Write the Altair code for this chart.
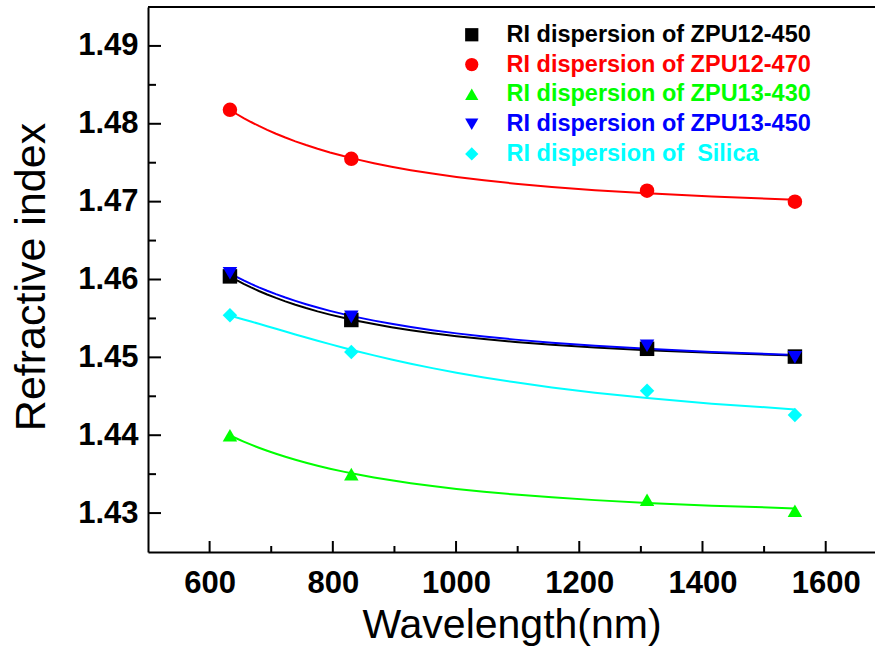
import altair as alt
import pandas as pd

# ---- data ----
wavelengths = [633, 830, 1310, 1550]
series_names = [
    "RI dispersion of ZPU12-450",
    "RI dispersion of ZPU12-470",
    "RI dispersion of ZPU13-430",
    "RI dispersion of ZPU13-450",
    "RI dispersion of \u00a0Silica",
]
zpu12_450 = [1.4604, 1.4548, 1.4511, 1.4501]
zpu12_470 = [1.4818, 1.4755, 1.4714, 1.4700]
zpu13_430 = [1.4400, 1.4350, 1.4317, 1.4303]
zpu13_450 = [1.4608, 1.4552, 1.4515, 1.4500]
silica = [1.4554, 1.4507, 1.4457, 1.4426]
series_values = [zpu12_450, zpu12_470, zpu13_430, zpu13_450, silica]

colors = ["#000000", "#ff0000", "#00ff00", "#0000ff", "#00ffff"]
shapes = ["square", "circle", "triangle-up", "triangle-down", "diamond"]

x_major = [600, 800, 1000, 1200, 1400, 1600]
x_minor = [700, 900, 1100, 1300, 1500]
y_major = [1.43, 1.44, 1.45, 1.46, 1.47, 1.48, 1.49]
y_minor = [1.435, 1.445, 1.455, 1.465, 1.475, 1.485]

W, H = 727, 545
FONT = "Liberation Sans"
X_TITLE = "Wavelength(nm)"
Y_TITLE = "Refractive index"

rows = []
for name, vals in zip(series_names, series_values):
    for wl, v in zip(wavelengths, vals):
        rows.append({"series": name, "wavelength": wl, "ri": v})
df = pd.DataFrame(rows)

xscale = alt.Scale(domain=[500, 1680], nice=False, zero=False)
yscale = alt.Scale(domain=[1.425, 1.495], nice=False, zero=False)

u_lo = (1000 / max(wavelengths)) ** 2
u_hi = (1000 / min(wavelengths)) ** 2

label_color_expr = "{}[indexof({}, datum.value)]".format(
    "[" + ",".join("'" + c + "'" for c in colors) + "]",
    "[" + ",".join("'" + s + "'" for s in series_names) + "]",
)

x_axis = alt.Axis(
    values=x_major, format="d", ticks=False, tickSize=0, grid=False,
    domainColor="black", domainWidth=2,
    labelFont=FONT, labelFontSize=31, labelFontWeight="bold", labelColor="black",
    labelPadding=16,
    title=X_TITLE, titleFont=FONT, titleFontSize=41, titleFontWeight="normal",
    titleColor="black", titleX=W / 2, titleY=85, titleAlign="center",
    titleBaseline="alphabetic",
)
y_axis = alt.Axis(
    values=y_major, format=".2f", ticks=False, tickSize=0, grid=False,
    domainColor="black", domainWidth=2,
    labelFont=FONT, labelFontSize=31, labelFontWeight="bold", labelColor="black",
    labelPadding=10,
    title=Y_TITLE, titleFont=FONT, titleFontSize=43, titleFontWeight="normal",
    titleColor="black", titleAngle=270, titleX=-104, titleY=H / 2 - 3, titleAlign="center",
    titleBaseline="alphabetic",
)

base = alt.Chart(df)

# line colours use a stroke scale with its own (reversed) domain so its hidden
# legend is not merged with the visible colour/shape legend
lines = (
    base.transform_calculate(u="pow(1000 / datum.wavelength, 2)")
    .transform_regression("u", "ri", method="poly", order=2,
                          groupby=["series"], extent=[u_lo, u_hi])
    .transform_calculate(lam="1000 / sqrt(datum.u)")
    .mark_line(strokeWidth=2)
    .encode(
        x=alt.X("lam:Q", scale=xscale, axis=x_axis, title=X_TITLE),
        y=alt.Y("ri:Q", scale=yscale, axis=y_axis, title=Y_TITLE),
        stroke=alt.Stroke("series:N",
                          scale=alt.Scale(domain=series_names[::-1], range=colors[::-1]),
                          legend=None),
        detail="series:N",
    )
)

points = base.mark_point(filled=True, size=210, opacity=1).encode(
    x=alt.X("wavelength:Q", scale=xscale, axis=x_axis, title=X_TITLE),
    y=alt.Y("ri:Q", scale=yscale, axis=y_axis, title=Y_TITLE),
    color=alt.Color(
        "series:N",
        scale=alt.Scale(domain=series_names, range=colors),
        legend=alt.Legend(
            title=None, orient="none", legendX=312, legendY=16, padding=0,
            labelFont=FONT, labelFontSize=23.5, labelFontWeight="bold",
            labelColor=alt.ExprRef(label_color_expr), labelLimit=1000,
            labelOffset=23, rowPadding=4.8, symbolSize=175, symbolStrokeWidth=0,
            symbolOpacity=1,
        ),
    ),
    shape=alt.Shape("series:N", scale=alt.Scale(domain=series_names, range=shapes)),
)

ydf_major = pd.DataFrame({"yt": y_major})
ydf_minor = pd.DataFrame({"yt": y_minor})
xdf_major = pd.DataFrame({"xt": x_major})
xdf_minor = pd.DataFrame({"xt": x_minor})

ytick_major = alt.Chart(ydf_major).mark_rule(color="black", strokeWidth=2).encode(
    y=alt.Y("yt:Q", scale=yscale, axis=y_axis, title=Y_TITLE), x=alt.value(0), x2=alt.value(13))
ytick_minor = alt.Chart(ydf_minor).mark_rule(color="black", strokeWidth=2).encode(
    y=alt.Y("yt:Q", scale=yscale, axis=y_axis, title=Y_TITLE), x=alt.value(0), x2=alt.value(8))
xtick_major = alt.Chart(xdf_major).mark_rule(color="black", strokeWidth=2).encode(
    x=alt.X("xt:Q", scale=xscale, axis=x_axis, title=X_TITLE), y=alt.value(H), y2=alt.value(H - 11))
xtick_minor = alt.Chart(xdf_minor).mark_rule(color="black", strokeWidth=2).encode(
    x=alt.X("xt:Q", scale=xscale, axis=x_axis, title=X_TITLE), y=alt.value(H), y2=alt.value(H - 6))

top_frame = alt.Chart(pd.DataFrame({"a": [0]})).mark_rule(color="black", strokeWidth=2).encode(
    x=alt.value(0), x2=alt.value(W), y=alt.value(0))

chart = (
    alt.layer(lines, points, ytick_major, ytick_minor, xtick_major, xtick_minor, top_frame)
    .properties(
        width=W, height=H,
        autosize=alt.AutoSizeParams(type="none"),
        padding={"left": 148, "top": 7, "right": 0, "bottom": 106},
        background="white",
    )
    .configure_view(stroke=None)
)

chart.save("out.html", embed_options={"renderer": "svg", "actions": False})
